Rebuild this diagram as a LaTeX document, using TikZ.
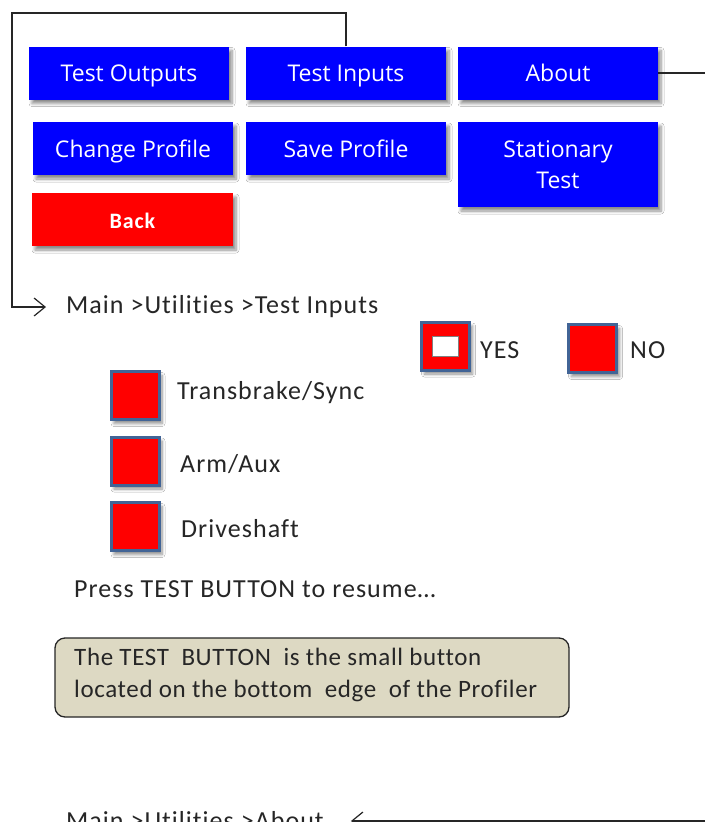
\documentclass[tikz,border=0pt]{standalone}
\usepackage{fontspec}
\setmainfont{Carlito}[LetterSpace=4,Ligatures=CommonOff]
\newfontfamily\notefont{Carlito}[LetterSpace=2.5,Ligatures=CommonOff]
\newfontfamily\btnfont{Open Sans}
\usetikzlibrary{arrows.meta,shadows.blur}
\definecolor{cbblue}{RGB}{65,100,150}
\definecolor{notetan}{RGB}{221,217,195}
\begin{document}
\begin{tikzpicture}[x=1pt,y=-1pt,
  shd/.style={blur shadow={shadow xshift=3pt,shadow yshift=-4pt,shadow blur steps=6,shadow opacity=45,shadow blur radius=3pt}},
  btn/.style={shd,fill=blue,draw=none,text=white,font=\btnfont\fontsize{23}{31}\selectfont,
    minimum width=200pt,minimum height=53pt,inner sep=0pt,align=center},
  btn1/.style={btn,text height=17pt,text depth=0pt},
  backbtn/.style={btn1,fill=red,font=\bfseries\fontsize{22}{27}\selectfont},
  chk/.style={shd,draw=cbblue,line width=3pt,fill=red,minimum width=48pt,minimum height=48pt,inner sep=0pt},
  lbl/.style={anchor=west,inner sep=0pt,font=\fontsize{26}{30}\selectfont,text=black!85},
  conn/.style={draw=black!85,line width=1.2pt},
  tip/.style={-{Straight Barb[length=11pt,width=18pt,line width=1.2pt]}}
]
\useasboundingbox[fill=white] (0,0) rectangle (705,822);

\node[btn1] (to) at (129,73) {Test Outputs};
\node[btn1] (ti) at (346,73) {Test Inputs};
\node[btn1] (ab) at (558,73) {About};
\node[btn1] (cp) at (133,148.5) {Change Profile};
\node[btn1] (sp) at (346,148.5) {Save Profile};
\node[btn,minimum height=85pt] (st) at (558,164.5) {Stationary\\Test};
\node[backbtn,minimum width=201pt] (bk) at (132.5,219.5) {Back};

\node[lbl] (p1) at (66,307) {Main >Utilities >Test Inputs};

\coordinate (c1) at (12,13);
\draw[conn,tip] (ti.north) |- (c1) |- ([xshift=-20pt]p1.west);

\coordinate (r1) at (705,73);
\draw[conn] (ab.east) -- (r1);

\node[chk] (yes) at (445.5,346) {};
\node[draw=black!50,line width=0.8pt,fill=white,minimum width=26pt,minimum height=20pt,inner sep=0pt] (yesin) at (yes.center) {};
\node[lbl] (yesl) at (480,350) {YES};
\node[chk] (no) at (592.5,348.5) {};
\node[lbl] (nol) at (630,350) {NO};

\node[chk] (b1) at (135,395.5) {};
\node[lbl] (l1) at (177,393) {Transbrake/Sync};
\node[chk] (b2) at (135,461) {};
\node[lbl] (l2) at (180,464) {Arm/Aux};
\node[chk] (b3) at (135,526.5) {};
\node[lbl] (l3) at (181,529) {Driveshaft};

\node[lbl] (press) at (74,589) {Press TEST BUTTON to resume\ldots};

\node[draw=black!85,line width=1.3pt,fill=notetan,rounded corners=10pt,
  minimum width=514pt,minimum height=79pt,inner sep=0pt] (note) at (312,677.5) {};
\node[anchor=base west,align=left,inner sep=0pt,font=\notefont\fontsize{25}{32}\selectfont,text=black!85]
  (notet) at (74,697) {The TEST\ \ BUTTON\ \ is the small button\\located on the bottom\ \ edge\ \ of the Profiler};

\node[lbl,anchor=base west] (p2) at (66,829) {Main >Utilities >About};
\coordinate (r2) at (705,821);
\draw[conn,tip] (r2) -- ([xshift=27pt]p2.east |- r2);
\end{tikzpicture}
\end{document}
